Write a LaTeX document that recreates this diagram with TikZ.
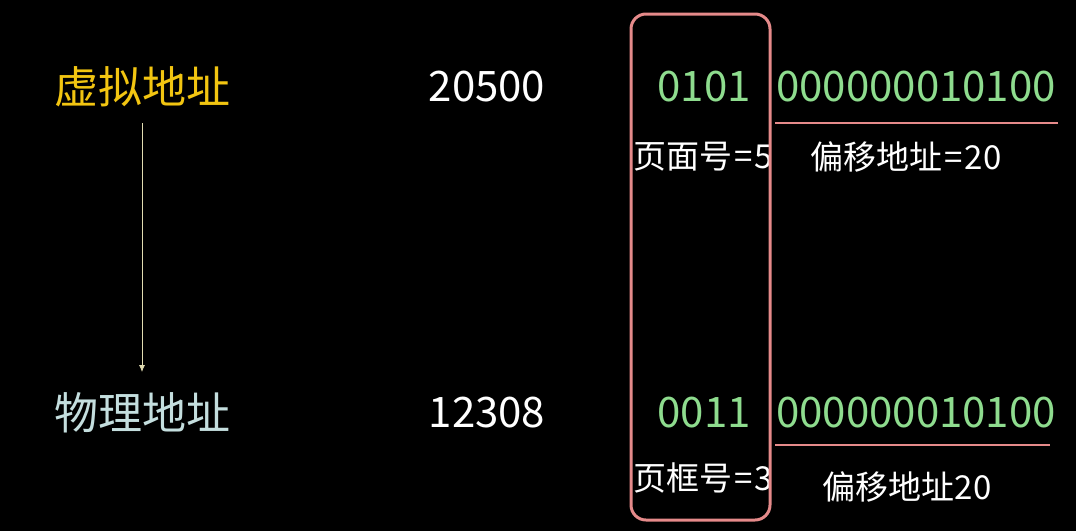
\documentclass[tikz,border=0pt]{standalone}
\usepackage{fontspec}
\setmainfont{Noto Sans CJK SC}
\usetikzlibrary{arrows.meta}
\definecolor{vyellow}{HTML}{F2C511}
\definecolor{pblue}{HTML}{C4DEDE}
\definecolor{bgreen}{HTML}{8EDC8E}
\definecolor{pinkline}{HTML}{E58A8A}
\definecolor{arrowc}{HTML}{E2DDB2}
\newcommand{\eqk}{\kern2pt=\kern2pt}
\begin{document}
\begin{tikzpicture}[x=1pt,y=-1pt,
  big/.style={inner sep=0pt,font=\fontsize{42}{48}\selectfont},
  cjkbig/.style={inner sep=0pt,font=\fontsize{44}{50}\selectfont},
  small/.style={inner sep=0pt,font=\fontsize{33}{38}\selectfont,text=white},
  pinkrule/.style={draw=pinkline,line width=1.6pt}]
\fill[black] (0,0) rectangle (1076,531);
\useasboundingbox (0,0) rectangle (1076,531);
% left labels
\node[cjkbig,text=vyellow] (va) at (142,87) {虚拟地址};
\node[cjkbig,text=pblue] (pa) at (142,413) {物理地址};
\draw[arrowc,line width=0.8pt,-{Latex[length=7pt,width=6pt]}] (142,123) coordinate (a1) -- (142,372) coordinate (a2);
% decimal
\node[big,text=white] (d1) at (487,87) {20500};
\node[big,text=white] (d2) at (487,413) {12308};
% binary
\node[big,text=bgreen] (p1) at (704,87) {0101};
\node[big,text=bgreen] (o1) at (916,87) {000000010100};
\node[big,text=bgreen] (p2) at (704,413) {0011};
\node[big,text=bgreen] (o2) at (916,413) {000000010100};
% rules
\draw[pinkrule] (775,123) coordinate (r1a) -- (1058,123) coordinate (r1b);
\draw[pinkrule] (775,445) coordinate (r2a) -- (1050,445) coordinate (r2b);
% small labels
\node[small,anchor=west] (l1) at (633,157) {页面号\eqk5};
\node[small] (l2) at (906,157) {偏移地址\eqk20};
\node[small,anchor=west] (l3) at (633,478) {页框号\eqk3};
\node[small] (l4) at (907,487) {偏移地址20};
% rounded frame
\draw[draw=pinkline,line width=3pt,rounded corners=15pt] (631,14) rectangle (770,520);
\end{tikzpicture}
\end{document}
